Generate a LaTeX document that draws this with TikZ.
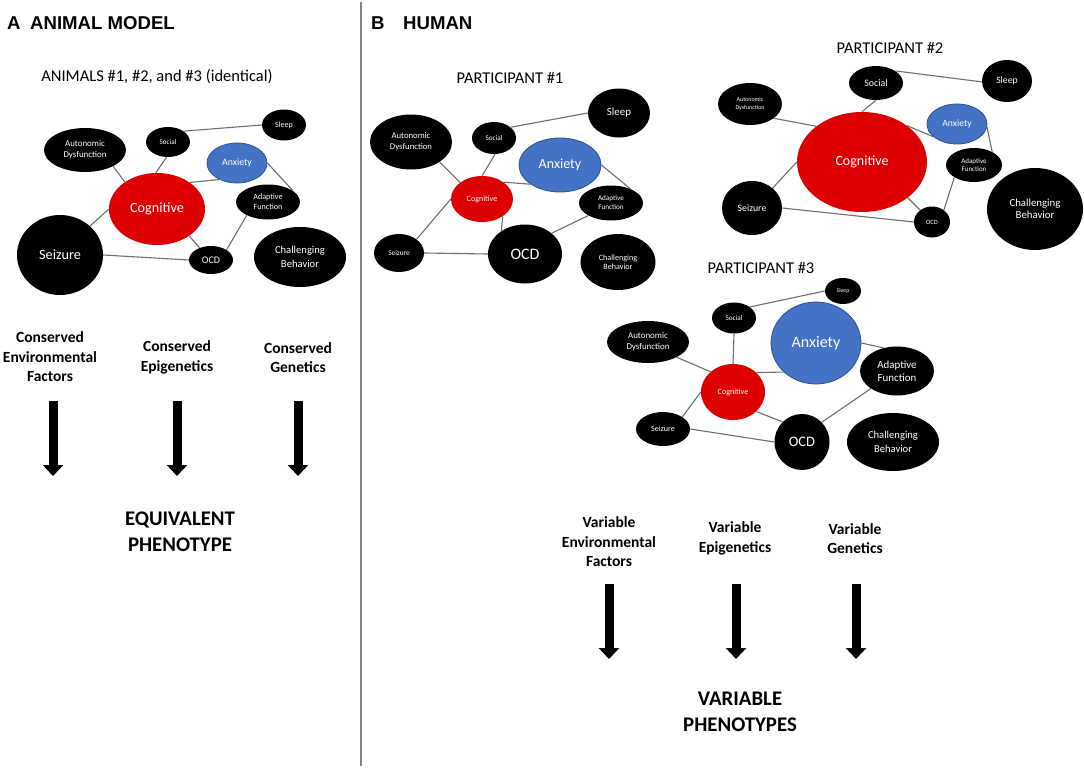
\documentclass[tikz,border=0pt]{standalone}
\usepackage{fontspec}
\setmainfont{Carlito}
\newfontfamily\headfont{Liberation Sans}
\usetikzlibrary{shapes.geometric,arrows.meta}
\definecolor{cred}{RGB}{220,0,0}
\definecolor{cblue}{RGB}{68,114,196}
\definecolor{cblueline}{RGB}{47,82,143}
\definecolor{edgegray}{RGB}{110,110,110}
\definecolor{divgray}{RGB}{130,130,130}
\newcommand\fs[2]{\fontsize{#1}{#2}\selectfont}
\tikzset{
  bub/.style={ellipse, inner sep=0pt, align=center, text=white, fill=black},
  redbub/.style={bub, fill=cred},
  bluebub/.style={bub, fill=cblue, draw=cblueline, line width=0.8pt},
  edge/.style={draw=edgegray, line width=1.1pt},
  heading/.style={font=\headfont\bfseries\fs{18.6}{22}, anchor=west, inner sep=0pt},
  title/.style={font=\fs{16.5}{20}, inner sep=0pt},
  factor/.style={font=\bfseries\fs{15.5}{19.5}, align=center, inner sep=0pt},
  pheno/.style={font=\bfseries\fs{20.8}{26}, align=center, inner sep=0pt},
  fatarrow/.style={line width=9pt, -{Triangle[width=20pt,length=11pt]}}
}
\begin{document}
\begin{tikzpicture}[x=1pt,y=-1pt]
\useasboundingbox (0,0) rectangle (1084,768);
\fill[white] (0,0) rectangle (1084,768);

% divider
\coordinate (divtop) at (361,2);
\coordinate (divbot) at (361,766);
\draw[divgray, line width=1.2pt] (divtop) -- (divbot);

% headings
\node[heading] (hA) at (7,23) {A};
\node[heading] (hAt) at (30,23) {ANIMAL MODEL};
\node[heading] (hB) at (371,23) {B};
\node[heading] (hBt) at (403,23) {HUMAN};

% ================= PANEL A =================
\node[title] (tA) at (157,77) {ANIMALS \#1, \#2, and \#3 (identical)};
\node[bub, minimum width=44pt, minimum height=31pt, font=\fs{8}{9}] (a-sleep) at (284,125) {Sleep};
\node[bub, minimum width=44pt, minimum height=30pt, font=\fs{7.1}{8}] (a-social) at (168,142) {Social};
\node[bub, minimum width=82pt, minimum height=44pt, font=\fs{8.9}{10.7}] (a-auto) at (85,150) {Autonomic\\Dysfunction};
\node[bluebub, minimum width=60pt, minimum height=40pt, font=\fs{9.8}{11}] (a-anx) at (237,163) {Anxiety};
\node[redbub, minimum width=96pt, minimum height=72pt, font=\fs{14.2}{16}] (a-cog) at (157,209) {Cognitive};
\node[bub, minimum width=64pt, minimum height=35pt, font=\fs{8.1}{10}] (a-adapt) at (268,202) {Adaptive\\Function};
\node[bub, minimum width=86pt, minimum height=80pt, font=\fs{14.2}{16}] (a-seiz) at (60,255) {Seizure};
\node[bub, minimum width=44pt, minimum height=28pt, font=\fs{10.1}{11}] (a-ocd) at (211,260) {OCD};
\node[bub, minimum width=92pt, minimum height=60pt, font=\fs{10.6}{13.3}] (a-chal) at (300,257) {Challenging\\Behavior};

\draw[edge] (a-social.35) -- (a-sleep.180);
\draw[edge] (a-auto.-30) -- (a-cog.140);
\draw[edge] (a-social.-95) -- (a-cog.92);
\draw[edge] (a-cog.39) -- (a-anx.-137);
\draw[edge] (a-anx.0) -- (a-adapt.24);
\draw[edge] (a-cog.180) -- (a-seiz.44);
\draw[edge] (a-cog.-40) -- (a-ocd.133);
\draw[edge] (a-seiz.0) -- (a-ocd.180);
\draw[edge] (a-ocd.33) -- (a-adapt.212);

% factors A
\node[factor] (fA1) at (50,357) {Conserved\\Environmental\\Factors};
\node[factor] (fA2) at (177,357.5) {Conserved\\Epigenetics};
\node[factor] (fA3) at (298,357.5) {Conserved\\Genetics};
\coordinate (aA1s) at (53,401); \coordinate (aA1e) at (53,476);
\coordinate (aA2s) at (177,401); \coordinate (aA2e) at (177,476);
\coordinate (aA3s) at (298,401); \coordinate (aA3e) at (298,476);
\draw[fatarrow] (aA1s) -- (aA1e);
\draw[fatarrow] (aA2s) -- (aA2e);
\draw[fatarrow] (aA3s) -- (aA3e);
\node[pheno] (pA) at (180,532) {EQUIVALENT\\PHENOTYPE};

% ================= PARTICIPANT 1 =================
\node[title] (t1) at (510,78) {PARTICIPANT \#1};
\node[bub, minimum width=62pt, minimum height=49pt, font=\fs{10.9}{12}] (p1-sleep) at (619,113) {Sleep};
\node[bub, minimum width=82pt, minimum height=55pt, font=\fs{8.7}{10.7}] (p1-auto) at (411,142) {Autonomic\\Dysfunction};
\node[bub, minimum width=44pt, minimum height=32pt, font=\fs{7.2}{8}] (p1-social) at (494,138) {Social};
\node[bluebub, minimum width=82pt, minimum height=54pt, font=\fs{14}{16}] (p1-anx) at (560,165) {Anxiety};
\node[redbub, minimum width=62pt, minimum height=46pt, font=\fs{8.1}{9}] (p1-cog) at (482,199) {Cognitive};
\node[bub, minimum width=64pt, minimum height=35pt, font=\fs{7.2}{9}] (p1-adapt) at (611,203) {Adaptive\\Function};
\node[bub, minimum width=50pt, minimum height=38pt, font=\fs{7.3}{8}] (p1-seiz) at (399,253) {Seizure};
\node[bub, minimum width=74pt, minimum height=59pt, font=\fs{16}{18}] (p1-ocd) at (525,254) {OCD};
\node[bub, minimum width=75pt, minimum height=56pt, font=\fs{8.1}{9.3}] (p1-chal) at (618,262) {Challenging\\Behavior};

\draw[edge] (p1-social.33) -- (p1-sleep.180);
\draw[edge] (p1-auto.-35) -- (p1-cog.143);
\draw[edge] (p1-social.-86) -- (p1-cog.90);
\draw[edge] (p1-cog.38) -- (p1-anx.-147);
\draw[edge] (p1-anx.0) -- (p1-adapt.36);
\draw[edge] (p1-cog.180) -- (p1-seiz.38);
\draw[edge] (p1-cog.-40) -- (p1-ocd.136);
\draw[edge] (p1-seiz.0) -- (p1-ocd.180);
\draw[edge] (p1-ocd.38) -- (p1-adapt.209);

% ================= PARTICIPANT 2 =================
\node[title] (t2) at (890,48) {PARTICIPANT \#2};
\node[bub, minimum width=54pt, minimum height=34pt, font=\fs{9.9}{11}] (p2-social) at (876,83) {Social};
\node[bub, minimum width=50pt, minimum height=42pt, font=\fs{9.7}{11}] (p2-sleep) at (1007,81) {Sleep};
\node[bub, minimum width=64pt, minimum height=42pt, font=\fs{6}{8}] (p2-auto) at (750,104) {Autonomic\\Dysfunction};
\node[bluebub, minimum width=60pt, minimum height=40pt, font=\fs{9.6}{11}] (p2-anx) at (957,124) {Anxiety};
\node[redbub, minimum width=130pt, minimum height=100pt, font=\fs{14}{16}] (p2-cog) at (862,162) {Cognitive};
\node[bub, minimum width=56pt, minimum height=34pt, font=\fs{7}{8.3}] (p2-adapt) at (974,165) {Adaptive\\Function};
\node[bub, minimum width=60pt, minimum height=54pt, font=\fs{9.8}{11}] (p2-seiz) at (752,208) {Seizure};
\node[bub, minimum width=36pt, minimum height=31pt, font=\fs{6.5}{7}] (p2-ocd) at (932,222) {OCD};
\node[bub, minimum width=96pt, minimum height=82pt, font=\fs{10.8}{12.3}] (p2-chal) at (1035,209) {Challenging\\Behavior};

\draw[edge] (p2-social.32) -- (p2-sleep.182);
\draw[edge] (p2-social.-90) -- (p2-cog.90);
\draw[edge] (p2-auto.-31) -- (p2-cog.142);
\draw[edge] (p2-cog.39) -- (p2-anx.208);
\draw[edge] (p2-anx.-6) -- (p2-adapt.36);
\draw[edge] (p2-cog.180) -- (p2-seiz.44);
\draw[edge] (p2-cog.-38) -- (p2-ocd.135);
\draw[edge] (p2-seiz.0) -- (p2-ocd.180);
\draw[edge] (p2-adapt.212) -- (p2-ocd.45);

% ================= PARTICIPANT 3 =================
\node[title] (t3) at (761,268) {PARTICIPANT \#3};
\node[bub, minimum width=36pt, minimum height=26pt, font=\fs{5.7}{6}] (p3-sleep) at (843,291) {Sleep};
\node[bub, minimum width=44pt, minimum height=31pt, font=\fs{7.2}{8}] (p3-social) at (734,318) {Social};
\node[bub, minimum width=82pt, minimum height=42pt, font=\fs{8.9}{10.7}] (p3-auto) at (648,342) {Autonomic\\Dysfunction};
\node[bluebub, minimum width=90pt, minimum height=82pt, font=\fs{16}{18}] (p3-anx) at (816,343) {Anxiety};
\node[bub, minimum width=74pt, minimum height=49pt, font=\fs{10.9}{13.3}] (p3-adapt) at (897,371) {Adaptive\\Function};
\node[redbub, minimum width=64pt, minimum height=56pt, font=\fs{8.1}{9}] (p3-cog) at (733,392) {Cognitive};
\node[bub, minimum width=54pt, minimum height=34pt, font=\fs{8.1}{9}] (p3-seiz) at (663,429) {Seizure};
\node[bub, minimum width=55pt, minimum height=56pt, font=\fs{14.5}{16}] (p3-ocd) at (802,442) {OCD};
\node[bub, minimum width=92pt, minimum height=58pt, font=\fs{10.6}{13.3}] (p3-chal) at (893,442) {Challenging\\Behavior};

\draw[edge] (p3-social.35) -- (p3-sleep.180);
\draw[edge] (p3-social.-90) -- (p3-cog.90);
\draw[edge] (p3-auto.-28) -- (p3-cog.138);
\draw[edge] (p3-cog.40) -- (p3-anx.222);
\draw[edge] (p3-anx.0) -- (p3-adapt.120);
\draw[edge] (p3-cog.180) -- (p3-seiz.32);
\draw[edge] (p3-cog.-40) -- (p3-ocd.134);
\draw[edge] (p3-seiz.0) -- (p3-ocd.180);
\draw[edge] (p3-ocd.45) -- (p3-adapt.214);

% factors B
\node[factor] (fB1) at (609,542) {Variable\\Environmental\\Factors};
\node[factor] (fB2) at (735,538.5) {Variable\\Epigenetics};
\node[factor] (fB3) at (855,538.5) {Variable\\Genetics};
\coordinate (aB1s) at (609,584); \coordinate (aB1e) at (609,659);
\coordinate (aB2s) at (736,584); \coordinate (aB2e) at (736,659);
\coordinate (aB3s) at (856,584); \coordinate (aB3e) at (856,659);
\draw[fatarrow] (aB1s) -- (aB1e);
\draw[fatarrow] (aB2s) -- (aB2e);
\draw[fatarrow] (aB3s) -- (aB3e);
\node[pheno] (pB) at (740,712) {VARIABLE\\PHENOTYPES};
\end{tikzpicture}
\end{document}
